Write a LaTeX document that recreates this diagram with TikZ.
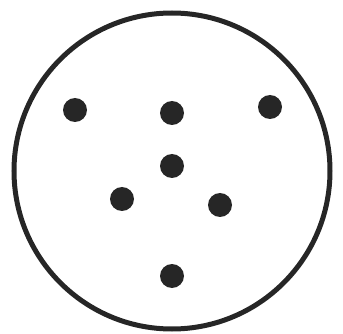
\documentclass[tikz,border=0pt]{standalone}
\usepackage{tikz}
\usetikzlibrary{positioning}

\begin{document}
\begin{tikzpicture}[x=1pt, y=-1pt]
\tikzstyle{dot}=[circle, fill=black!85, inner sep=0pt, minimum size=24pt]
\tikzstyle{ring}=[circle, draw=black!85, line width=5pt, inner sep=0pt, minimum width=316pt]
\useasboundingbox (0,0) rectangle (343,334);
\node[ring] (plate) at (172,171) {};
\node[dot] (d1) at (75,110) {};
\node[dot] (d2) at (172,113) {};
\node[dot] (d3) at (270,107) {};
\node[dot] (d4) at (172,166) {};
\node[dot] (d5) at (122,199) {};
\node[dot] (d6) at (220,205) {};
\node[dot] (d7) at (172,276) {};
\end{tikzpicture}
\end{document}
